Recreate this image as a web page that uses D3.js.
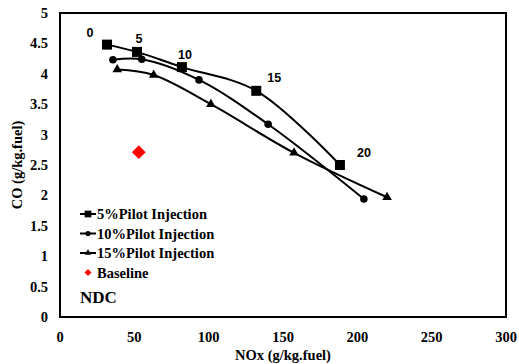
<!DOCTYPE html>
<html>
<head>
<meta charset="utf-8">
<script src="https://cdn.jsdelivr.net/npm/d3@7"></script>
<style>
  body { margin: 0; background: #fff; }
  text { font-family: "Liberation Serif", "Times New Roman", serif; font-weight: bold; }
  .num { font-family: "Liberation Sans", Arial, sans-serif; }
</style>
</head>
<body>
<div id="chart"></div>
<script>
// data
const nox5  = [31.6, 51.8, 82.0, 132.0, 188.3];
const co5   = [4.48, 4.36, 4.11, 3.72, 2.50];
const nox10 = [35.6, 55.0, 93.5, 140.0, 204.4];
const co10  = [4.23, 4.24, 3.90, 3.17, 1.94];
const nox15 = [38.5, 63.0, 101.5, 157.4, 220.0];
const co15  = [4.07, 3.98, 3.50, 2.70, 1.97];
const baseNox = [53];
const baseCo = [2.71];
const pilotLabels = ["0", "5", "10", "15", "20"];
const xTicks = [0, 50, 100, 150, 200, 250, 300];
const yTicks = [0, 0.5, 1, 1.5, 2, 2.5, 3, 3.5, 4, 4.5, 5];

const W = 519, H = 364;
const m = { left: 60, right: 13, top: 13, bottom: 47 };

const svg = d3.select("#chart").append("svg").attr("width", W).attr("height", H);

const x = d3.scaleLinear().domain([0, 300]).range([m.left, W - m.right]);
const y = d3.scaleLinear().domain([0, 5]).range([H - m.bottom, m.top]);

// frame
svg.append("rect")
  .attr("x", x(0)).attr("y", y(5))
  .attr("width", x(300) - x(0)).attr("height", y(0) - y(5))
  .attr("fill", "none").attr("stroke", "#000").attr("stroke-width", 2);

// tick labels
svg.append("g").selectAll("text").data(xTicks).join("text")
  .attr("x", d => x(d)).attr("y", y(0) + 25)
  .attr("text-anchor", "middle").attr("font-size", 14.5)
  .text(d => d);

svg.append("g").selectAll("text").data(yTicks).join("text")
  .attr("x", x(0) - 12).attr("y", d => y(d) + 5)
  .attr("text-anchor", "end").attr("font-size", 14.5)
  .text(d => d);

// axis titles
svg.append("text")
  .attr("x", (x(0) + x(300)) / 2).attr("y", H - 4)
  .attr("text-anchor", "middle").attr("font-size", 14.5)
  .text("NOx (g/kg.fuel)");

svg.append("text")
  .attr("transform", `translate(22, ${(y(0) + y(5)) / 2}) rotate(-90)`)
  .attr("text-anchor", "middle").attr("font-size", 14.5)
  .text("CO (g/kg.fuel)");

const series = [
  { name: "5%Pilot Injection", xs: nox5, ys: co5, sym: d3.symbolSquare, size: 100 },
  { name: "10%Pilot Injection", xs: nox10, ys: co10, sym: d3.symbolCircle, size: 45 },
  { name: "15%Pilot Injection", xs: nox15, ys: co15, sym: d3.symbolTriangle, size: 40 }
];

const line = d3.line().x(d => x(d[0])).y(d => y(d[1])).curve(d3.curveCatmullRom.alpha(0.5));

series.forEach(s => {
  const pts = s.xs.map((v, i) => [v, s.ys[i]]);
  svg.append("path").attr("d", line(pts))
    .attr("fill", "none").attr("stroke", "#000").attr("stroke-width", 2);
  svg.append("g").selectAll("path").data(pts).join("path")
    .attr("transform", d => `translate(${x(d[0])},${y(d[1])})`)
    .attr("d", d3.symbol().type(s.sym).size(s.size))
    .attr("fill", "#000");
});

// baseline (a square turned on its corner)
svg.append("path")
  .attr("transform", `translate(${x(baseNox[0])},${y(baseCo[0])}) rotate(45)`)
  .attr("d", d3.symbol().type(d3.symbolSquare).size(95))
  .attr("fill", "#ff0000");

// pilot percentage labels on the 5% curve
const labelOffsets = [[-17, -8], [2, -9], [3, -8], [18, -9], [24, -8]];
svg.append("g").selectAll("text").data(pilotLabels).join("text")
  .attr("class", "num")
  .attr("x", (d, i) => x(nox5[i]) + labelOffsets[i][0])
  .attr("y", (d, i) => y(co5[i]) + labelOffsets[i][1])
  .attr("text-anchor", "middle").attr("font-size", 12.5)
  .text(d => d);

// legend
const leg = svg.append("g").attr("transform", "translate(80, 214)");
series.forEach((s, i) => {
  const g = leg.append("g").attr("transform", `translate(0, ${i * 19.5})`);
  g.append("line").attr("x1", 0).attr("x2", 16).attr("stroke", "#000").attr("stroke-width", 2);
  g.append("path").attr("transform", "translate(8,0)")
    .attr("d", d3.symbol().type(s.sym).size(s.size * 0.45)).attr("fill", "#000");
  g.append("text").attr("x", 17).attr("y", 5).attr("font-size", 14.5).text(s.name);
});
const gb = leg.append("g").attr("transform", "translate(0, 58.5)");
gb.append("path").attr("transform", "translate(8,0) rotate(45)")
  .attr("d", d3.symbol().type(d3.symbolSquare).size(25)).attr("fill", "#ff0000");
gb.append("text").attr("x", 17).attr("y", 5).attr("font-size", 14.5).text("Baseline");

svg.append("text").attr("x", 80).attr("y", 303).attr("font-size", 17).text("NDC");
</script>
</body>
</html>
